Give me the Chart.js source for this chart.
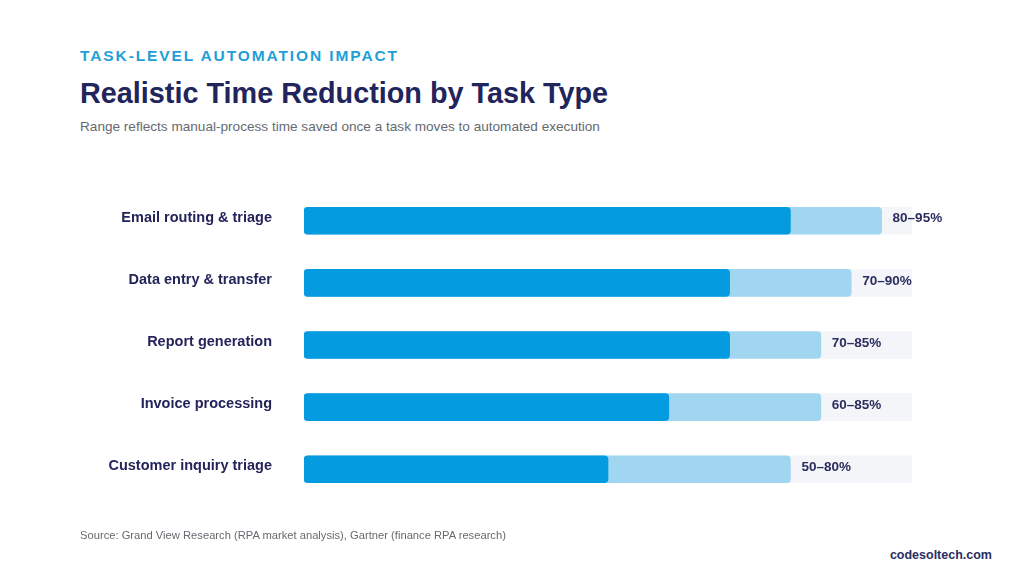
<!DOCTYPE html>
<html>
<head>
<meta charset="utf-8">
<script src="https://cdn.jsdelivr.net/npm/chart.js@4"></script>
<style>
  html, body { margin: 0; padding: 0; background: #fff; }
  body { width: 1024px; height: 584px; position: relative; overflow: hidden; font-family: "Liberation Sans", Arial, sans-serif; }
  .kicker { position: absolute; left: 80px; top: 47px; font-size: 15.5px; font-weight: bold; letter-spacing: 1.9px; color: #1f9fd8; }
  .title { position: absolute; left: 80px; top: 77px; font-size: 28.8px; font-weight: bold; color: #22245c; }
  .subtitle { position: absolute; left: 80px; top: 119px; font-size: 13.6px; color: #666a70; }
  .source { position: absolute; left: 80px; top: 529px; font-size: 11.2px; color: #666a70; }
  .brand { position: absolute; right: 32px; top: 548px; font-size: 12.5px; font-weight: bold; color: #2a2d62; }
  #chart { position: absolute; left: 0; top: 149px; }
</style>
</head>
<body>
<div class="kicker">TASK-LEVEL AUTOMATION IMPACT</div>
<div class="title">Realistic Time Reduction by Task Type</div>
<div class="subtitle">Range reflects manual-process time saved once a task moves to automated execution</div>
<canvas id="chart" width="1024" height="392"></canvas>
<div class="source">Source: Grand View Research (RPA market analysis), Gartner (finance RPA research)</div>
<div class="brand">codesoltech.com</div>

<script>
const tasks = ['Email routing & triage', 'Data entry & transfer', 'Report generation', 'Invoice processing', 'Customer inquiry triage'];
const lowValues = [80, 70, 70, 60, 50];
const highValues = [95, 90, 85, 85, 80];
const trackMax = 100;

// range label next to the light bar
const rangeLabels = {
  id: 'rangeLabels',
  afterDatasetsDraw(chart) {
    const { ctx } = chart;
    const meta = chart.getDatasetMeta(1);
    ctx.save();
    ctx.font = 'bold 13.5px "Liberation Sans", Arial, sans-serif';
    ctx.fillStyle = '#2a2d5e';
    ctx.textBaseline = 'middle';
    ctx.textAlign = 'left';
    meta.data.forEach((bar, i) => {
      ctx.fillText(`${lowValues[i]}–${highValues[i]}%`, bar.x + 11, bar.y - 2);
    });
    ctx.restore();
  }
};

new Chart(document.getElementById('chart'), {
  type: 'bar',
  data: {
    labels: tasks,
    datasets: [
      { label: 'Low', data: lowValues.map(v => [0, v]), backgroundColor: '#049be0', borderRadius: 4, borderSkipped: false },
      { label: 'High', data: highValues.map(v => [0, v]), backgroundColor: '#a0d6ef', borderRadius: 4, borderSkipped: false },
      { label: 'Track', data: tasks.map(() => [0, trackMax]), backgroundColor: '#f3f5f9', borderRadius: 0 },
    ]
  },
  options: {
    indexAxis: 'y',
    responsive: false,
    animation: false,
    layout: { padding: { top: 0, bottom: 0, right: 112, left: 0 } },
    datasets: { bar: { grouped: false, barThickness: 27 } },
    scales: {
      x: { display: false, min: 0, max: 100 },
      y: {
        grid: { display: false, drawTicks: false },
        border: { display: false },
        afterFit: (axis) => { axis.width = 304; },
        ticks: {
          padding: 32,
          labelOffset: -3,
          color: '#23245a',
          font: { family: '"Liberation Sans", Arial, sans-serif', size: 14.5, weight: 'bold' }
        }
      }
    },
    plugins: { legend: { display: false }, tooltip: { enabled: false } }
  },
  plugins: [rangeLabels]
});
</script>
</body>
</html>
